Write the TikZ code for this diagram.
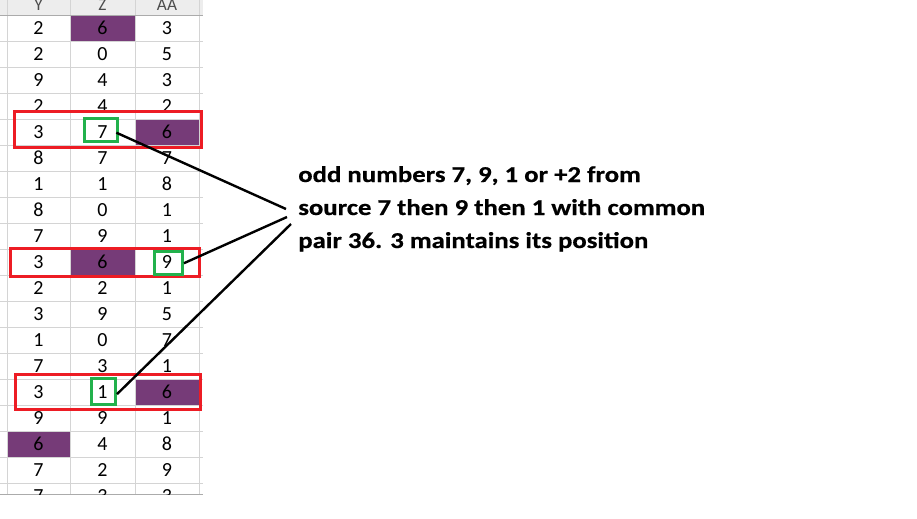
\documentclass[tikz,border=0pt]{standalone}
\usepackage{fontspec}
\setmainfont{Carlito}
\newfontfamily\notefont[FakeStretch=1.18,FakeBold=0.6]{Carlito Bold}
\definecolor{cellpurple}{HTML}{763B78}
\definecolor{gridgray}{HTML}{D4D4D4}
\definecolor{headgray}{HTML}{EDEDED}
\definecolor{headline}{HTML}{ABABAB}
\definecolor{markred}{HTML}{ED1C24}
\definecolor{markgreen}{HTML}{22B14C}
\tikzset{
  cell/.style={font=\fontsize{15}{18}\selectfont, inner sep=0pt},
  head/.style={font=\fontsize{13}{15}\selectfont, text=black!70, inner sep=0pt, anchor=base},
  note/.style={font=\notefont\fontsize{17}{20}\selectfont, inner sep=0pt, anchor=base west},
  redbox/.style={draw=markred, line width=2.2pt},
  greenbox/.style={draw=markgreen, line width=2.2pt, inner sep=0pt},
  pointer/.style={line width=1.8pt, black}
}
\begin{document}
\begin{tikzpicture}[x=0.75pt, y=-0.75pt]
  \useasboundingbox (0,0) rectangle (917,518);
  \clip (0,0) rectangle (917,518);

  \fill[headgray] (0,0) rectangle (203,15);
  \fill[cellpurple] (70,15) rectangle (135,41);
  \fill[cellpurple] (135,119) rectangle (199,145);
  \fill[cellpurple] (70,249) rectangle (135,275);
  \fill[cellpurple] (135,379) rectangle (199,405);
  \fill[cellpurple] (7,431) rectangle (70,457);

  \begin{scope}[gridgray, line width=0.75pt]
    \foreach \r in {1,...,18}
      \draw (0,15+26*\r) -- (203,15+26*\r);
    \foreach \c in {7,70,135,199}
      \draw (\c,0) -- (\c,494);
  \end{scope}
  \draw[headline, line width=0.75pt] (0,15) -- (203,15);
  \draw[headline, line width=0.75pt] (0,494) -- (203,494);

  \node[head] (hy)  at (38.5,10) {Y};
  \node[head] (hz)  at (102.5,10) {Z};
  \node[head] (haa) at (167,10) {AA};

  \begin{scope}[every node/.style={cell}]
    \node (y1)  at (38.5,28)  {2}; \node (z1)  at (102.5,28)  {6}; \node (aa1)  at (167,28)  {3};
    \node (y2)  at (38.5,54)  {2}; \node (z2)  at (102.5,54)  {0}; \node (aa2)  at (167,54)  {5};
    \node (y3)  at (38.5,80)  {9}; \node (z3)  at (102.5,80)  {4}; \node (aa3)  at (167,80)  {3};
    \node (y4)  at (38.5,106) {2}; \node (z4)  at (102.5,106) {4}; \node (aa4)  at (167,106) {2};
    \node (y5)  at (38.5,132) {3}; \node (z5)  at (102.5,132) {7}; \node (aa5)  at (167,132) {6};
    \node (y6)  at (38.5,158) {8}; \node (z6)  at (102.5,158) {7}; \node (aa6)  at (167,158) {7};
    \node (y7)  at (38.5,184) {1}; \node (z7)  at (102.5,184) {1}; \node (aa7)  at (167,184) {8};
    \node (y8)  at (38.5,210) {8}; \node (z8)  at (102.5,210) {0}; \node (aa8)  at (167,210) {1};
    \node (y9)  at (38.5,236) {7}; \node (z9)  at (102.5,236) {9}; \node (aa9)  at (167,236) {1};
    \node (y10) at (38.5,262) {3}; \node (z10) at (102.5,262) {6}; \node (aa10) at (167,262) {9};
    \node (y11) at (38.5,288) {2}; \node (z11) at (102.5,288) {2}; \node (aa11) at (167,288) {1};
    \node (y12) at (38.5,314) {3}; \node (z12) at (102.5,314) {9}; \node (aa12) at (167,314) {5};
    \node (y13) at (38.5,340) {1}; \node (z13) at (102.5,340) {0}; \node (aa13) at (167,340) {7};
    \node (y14) at (38.5,366) {7}; \node (z14) at (102.5,366) {3}; \node (aa14) at (167,366) {1};
    \node (y15) at (38.5,392) {3}; \node (z15) at (102.5,392) {1}; \node (aa15) at (167,392) {6};
    \node (y16) at (38.5,418) {9}; \node (z16) at (102.5,418) {9}; \node (aa16) at (167,418) {1};
    \node (y17) at (38.5,444) {6}; \node (z17) at (102.5,444) {4}; \node (aa17) at (167,444) {8};
    \node (y18) at (38.5,470) {7}; \node (z18) at (102.5,470) {2}; \node (aa18) at (167,470) {9};
    \node (y19) at (38.5,496) {7}; \node (z19) at (102.5,496) {3}; \node (aa19) at (167,496) {3};
  \end{scope}
  \fill[white] (0,494.5) rectangle (917,518);

  \draw[redbox] (14.8,111.5) rectangle (201.7,147.5);
  \draw[redbox] (10.8,248.2) rectangle (199.8,276.8);
  \draw[redbox] (15.5,374.8) rectangle (200.8,409.5);

  \node[greenbox, minimum width=24.5pt, minimum height=16.8pt] (g1) at (101.2,130) {};
  \node[greenbox, minimum width=21pt, minimum height=17.5pt] (g2) at (168.5,263.2) {};
  \node[greenbox, minimum width=18pt, minimum height=19pt] (g3) at (103.5,391.5) {};

  \coordinate (e1) at (286,209);
  \coordinate (e2) at (287,217);
  \coordinate (e3) at (291,224);

  \draw[pointer] ([xshift=-2pt,yshift=-2pt]g1.east) -- (e1);
  \draw[pointer] (g2.east) -- (e2);
  \draw[pointer] ([yshift=-2pt]g3.east) -- (e3);

  \node[note] (n1) at (298,182) {odd numbers 7, 9, 1 or +2 from};
  \node[note] (n2) at (298,215) {source 7 then 9 then 1 with common};
  \node[note] (n3) at (298,248) {pair 36. 3 maintains its position};
\end{tikzpicture}
\end{document}
